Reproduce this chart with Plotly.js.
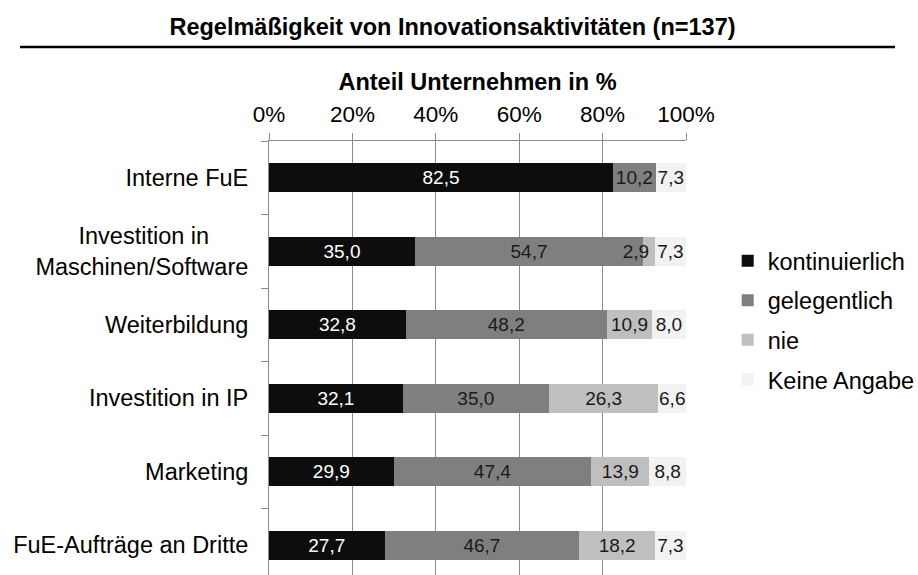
<!DOCTYPE html>
<html>
<head>
<meta charset="utf-8">
<script src="https://cdn.plot.ly/plotly-3.0.1.min.js"></script>
<style>
html,body{margin:0;padding:0;overflow:hidden;background:#fff;}
#chart{width:960px;height:590px;}
</style>
</head>
<body>
<div id="chart"></div>
<script>
// ---- data ----
const categories = ["Interne FuE", "Investition in Maschinen/Software", "Weiterbildung", "Investition in IP", "Marketing", "FuE-Aufträge an Dritte"];
const categoryLabels = ["Interne FuE", "Investition in\u00a0\u00a0\u00a0\u00a0\u00a0\u00a0<br>Maschinen/Software", "Weiterbildung", "Investition in IP", "Marketing", "FuE-Aufträge an Dritte"];
const seriesNames = ["kontinuierlich", "gelegentlich", "nie", "Keine Angabe"];
const kontinuierlich = [82.5, 35.0, 32.8, 32.1, 29.9, 27.7];
const gelegentlich = [10.2, 54.7, 48.2, 35.0, 47.4, 46.7];
const nie = [null, 2.9, 10.9, 26.3, 13.9, 18.2];
const keineAngabe = [7.3, 7.3, 8.0, 6.6, 8.8, 7.3];
const xTicks = [0, 20, 40, 60, 80, 100];
const xTickLabels = ["0%", "20%", "40%", "60%", "80%", "100%"];

const colors = ["#0d0d0d", "#7f7f7f", "#bfbfbf", "#f2f2f2"];
const textColors = ["#ffffff", "#1a1a1a", "#1a1a1a", "#1a1a1a"];
const values = [kontinuierlich, gelegentlich, nie, keineAngabe];

const FONT = "Liberation Sans, Arial, sans-serif";
const pad = "\u00a0\u00a0\u00a0\u00a0\u00a0";

const traces = values.map((vals, i) => {
  let tt = "%{x:.1f}";
  if (i === 2) {
    // small segment label drawn slightly left (as in original)
    tt = vals.map((v, j) => (v !== null && v < 5) ? "%{x:.1f}" + pad : "%{x:.1f}");
  }
  return {
    type: "bar",
    orientation: "h",
    name: seriesNames[i],
    legendgroup: "g" + i,
    y: categories,
    x: vals,
    marker: {color: colors[i], line: {width: 0}},
    texttemplate: tt,
    textposition: "inside",
    insidetextanchor: "middle",
    textangle: 0,
    constraintext: "none",
    insidetextfont: {family: FONT, size: 19, color: textColors[i]},
    hoverinfo: "skip"
  };
});

const W = 960;
const layout = {
  width: W,
  height: 590,
  margin: {l: 269, r: W - 686, t: 141, b: 8, pad: 0},
  paper_bgcolor: "#ffffff",
  plot_bgcolor: "#ffffff",
  barmode: "stack",
  bargap: 0.61,
  separators: ",.",
  font: {family: FONT, color: "#000000"},
  title: {
    text: "<b>Regelmäßigkeit von Innovationsaktivitäten (n=137)</b>",
    font: {family: FONT, size: 23.5, color: "#000000"},
    xref: "container", yref: "container",
    x: 452.5 / W, xanchor: "center",
    y: 0.955, yanchor: "middle"
  },
  xaxis: {
    side: "top",
    range: [0, 100],
    tickmode: "array",
    tickvals: xTicks,
    ticktext: xTickLabels,
    showgrid: true,
    gridcolor: "#8c8c8c",
    gridwidth: 1,
    zeroline: false,
    showline: true,
    linecolor: "#8c8c8c",
    linewidth: 1,
    ticks: "outside",
    ticklen: 7,
    tickcolor: "#8c8c8c",
    tickfont: {family: FONT, size: 22.5, color: "#000000"},
    ticklabelstandoff: 2,
    title: {
      text: "<b>Anteil Unternehmen in %</b>",
      font: {family: FONT, size: 23.5, color: "#000000"},
      standoff: 4
    },
    fixedrange: true
  },
  yaxis: {
    type: "category",
    categoryorder: "array",
    categoryarray: categories,
    autorange: "reversed",
    tickmode: "array",
    tickvals: categories,
    ticktext: categoryLabels,
    tickson: "boundaries",
    ticks: "outside",
    ticklen: 7,
    tickcolor: "#8c8c8c",
    showline: true,
    linecolor: "#8c8c8c",
    linewidth: 1,
    showgrid: false,
    zeroline: false,
    tickfont: {family: FONT, size: 23.5, color: "#000000"},
    ticklabelstandoff: 15,
    fixedrange: true
  },
  legend: {
    x: 1.100, xanchor: "left",
    y: 0.593, yanchor: "middle",
    font: {family: FONT, size: 23.5, color: "#000000"},
    traceorder: "grouped",
    tracegroupgap: 6,
    bgcolor: "rgba(0,0,0,0)",
    borderwidth: 0
  },
  showlegend: true,
  shapes: [{
    type: "line",
    xref: "paper", yref: "paper",
    x0: -0.597, x1: 1.501,
    y0: 1.2132, y1: 1.2132,
    line: {color: "#000000", width: 2.5}
  }]
};

Plotly.newPlot("chart", traces, layout, {displayModeBar: false, staticPlot: true});
</script>
</body>
</html>
